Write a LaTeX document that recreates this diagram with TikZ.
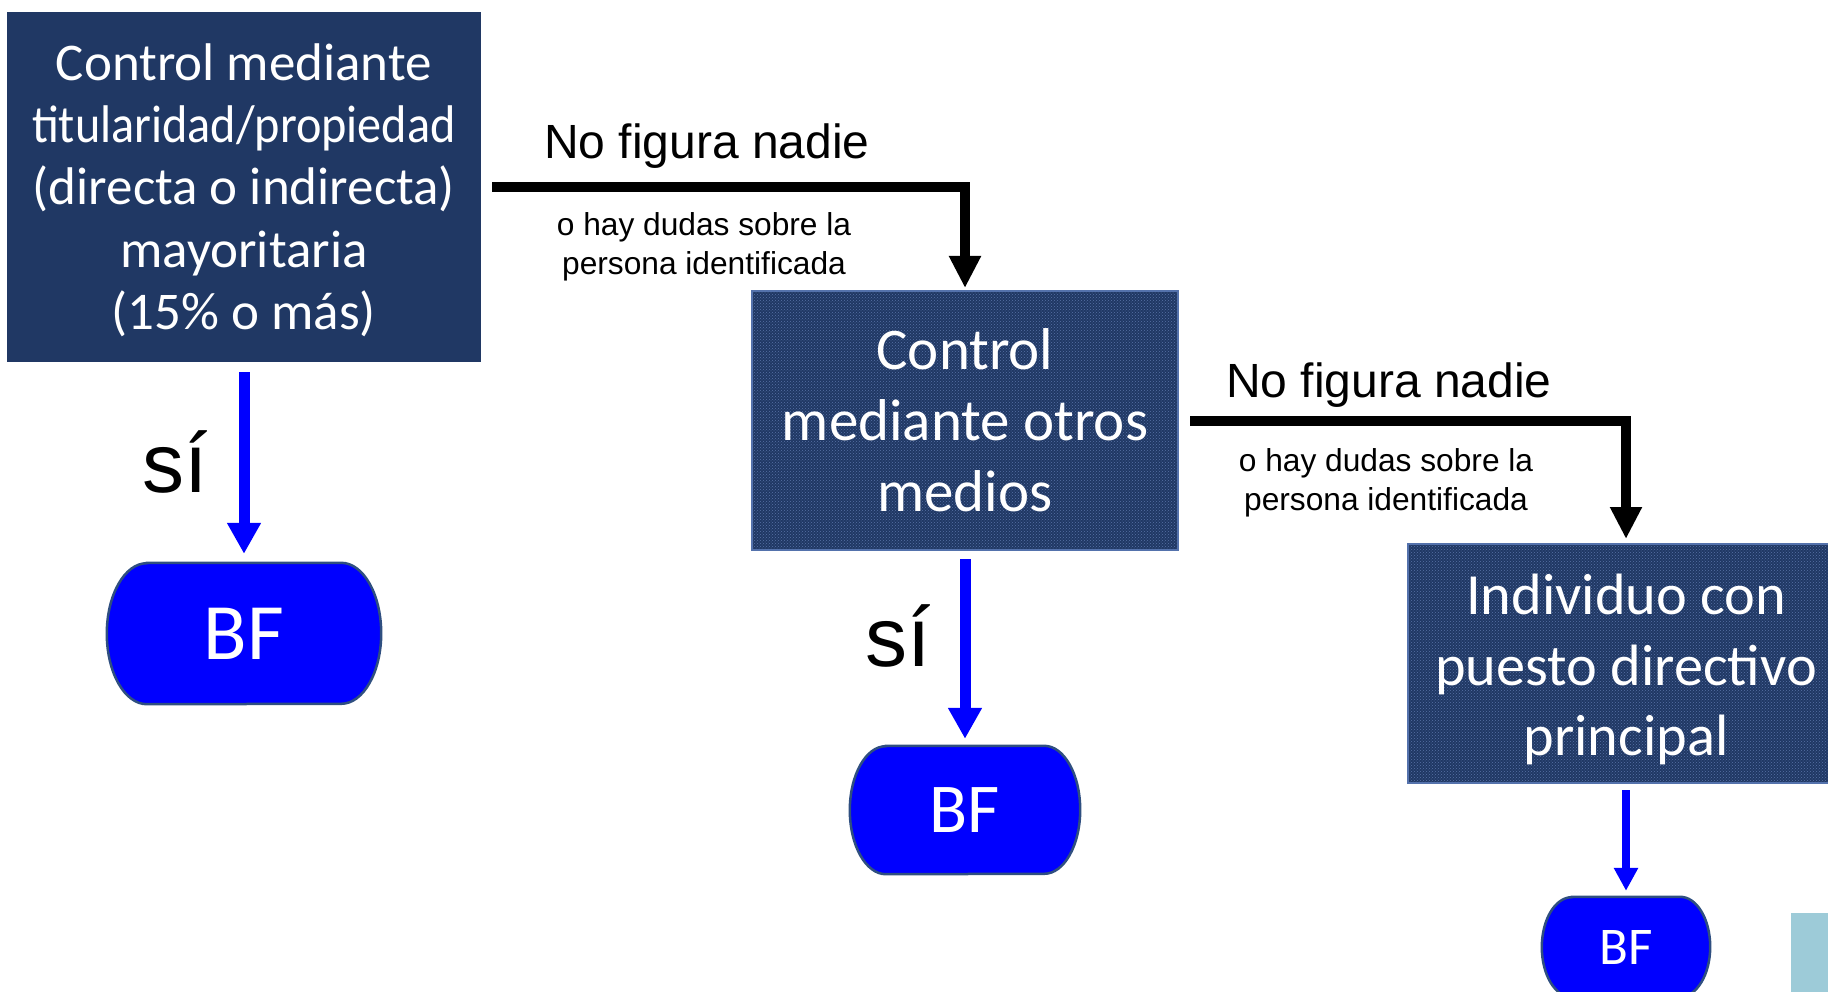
\documentclass[tikz,border=0pt]{standalone}
\usepackage{fontspec}
\setmainfont{Carlito}
\newfontfamily\arialfont{Liberation Sans}
\usetikzlibrary{arrows.meta,patterns,backgrounds}
\definecolor{boxnavy}{RGB}{32,56,100}
\definecolor{dotblue}{RGB}{88,114,166}
\definecolor{boxline}{RGB}{84,114,172}
\definecolor{bfblue}{RGB}{0,0,255}
\definecolor{bfline}{RGB}{47,79,128}
\definecolor{paleblue}{RGB}{157,203,216}
\tikzset{
  controlbox/.style={rectangle, text=white, align=center, inner sep=0pt},
  dottedbox/.style={controlbox, preaction={fill=boxnavy}, pattern=crosshatch dots,
    pattern color=dotblue, draw=boxline, line width=2pt},
  bfnode/.style={rectangle, text=white, inner sep=0pt},
  bfshape/.style={fill=bfblue, draw=bfline, line width=2.5pt},
  noarrow/.style={line width=10pt, -{Triangle[width=30pt,length=32pt]}},
  yesarrow/.style={draw=bfblue, line width=11pt, -{Triangle[width=32pt,length=31pt]}},
  nolabel/.style={font=\arialfont\fontsize{48}{58}\selectfont, anchor=base, inner sep=0pt},
  dudalabel/.style={font=\arialfont\fontsize{31.7}{39}\selectfont, align=center, inner sep=0pt},
  silabel/.style={font=\arialfont\fontsize{84}{100}\selectfont, anchor=base, inner sep=0pt}
}
\begin{document}
\begin{tikzpicture}[x=1pt,y=-1pt]
\useasboundingbox (0,0) rectangle (1828,992);
\clip (0,0) rectangle (1828,992);
% cuadros de control
\node[controlbox, fill=boxnavy, minimum width=474pt, minimum height=350pt,
  font=\fontsize{53}{62.4}\selectfont] (titular) at (244,187)
  {\rule{0pt}{43pt}Control mediante\\\scalebox{0.91}[1]{titularidad/propiedad}\\(directa o indirecta)\\mayoritaria\\(15\% o más)};
\node[dottedbox, minimum width=426pt, minimum height=259pt,
  font=\fontsize{59}{71}\selectfont] (otros) at (965,420.5)
  {Control\\mediante otros\\medios};
\node[dottedbox, minimum width=436pt, minimum height=239pt,
  font=\fontsize{58.3}{70.5}\selectfont] (directivo) at (1626,663.5)
  {\rule{0pt}{53pt}Individuo con\\puesto directivo\\principal};
% BF
\node[bfnode, minimum width=274pt, minimum height=141pt,
  font=\fontsize{80}{96}\selectfont] (bf1) at (244,633.5) {BF};
\node[bfnode, minimum width=230pt, minimum height=128pt,
  font=\fontsize{70}{84}\selectfont] (bf2) at (965,810) {BF};
\node[bfnode, minimum width=168pt, minimum height=100pt,
  font=\fontsize{53}{64}\selectfont] (bf3) at (1626,947) {BF};
\begin{scope}[on background layer]
\foreach \n/\rx/\ry in {bf1/40/70.5, bf2/36/64, bf3/30/50}
  \filldraw[bfshape] ([xshift=\rx pt]\n.north west) -- ([xshift=-\rx pt]\n.north east)
    arc[start angle=90, end angle=-90, x radius=\rx pt, y radius=\ry pt]
    -- ([xshift=\rx pt]\n.south west)
    arc[start angle=270, end angle=90, x radius=\rx pt, y radius=\ry pt] -- cycle;
\end{scope}
\fill[paleblue] (1791,913) rectangle (1840,1000);
% flechas
\draw[noarrow, shorten <=11pt, shorten >=2pt] (titular.east) -| (otros.north);
\draw[noarrow, shorten <=11pt, shorten >=4pt] (otros.east) -| (directivo.north);
\draw[yesarrow, shorten <=10pt, shorten >=9pt] (titular.south) -- (bf1.north);
\draw[yesarrow, shorten <=8pt, shorten >=7pt] (otros.south) -- (bf2.north);
\draw[yesarrow, line width=8pt, -{Triangle[width=23pt,length=23pt]},
  shorten <=6pt, shorten >=6pt] (directivo.south) -- (bf3.north);
% textos
\node[nolabel] (nadie1) at (707,159) {No figura nadie};
\node[dudalabel] (duda1) at (704,246.5) {o hay dudas sobre la\\persona identificada};
\node[nolabel] (nadie2) at (1389,397) {No figura nadie};
\node[dudalabel] (duda2) at (1386,482.5) {o hay dudas sobre la\\persona identificada};
\node[silabel] (si1) at (175.5,492) {sí};
\node[silabel] (si2) at (898.5,666) {sí};
\end{tikzpicture}
\end{document}
